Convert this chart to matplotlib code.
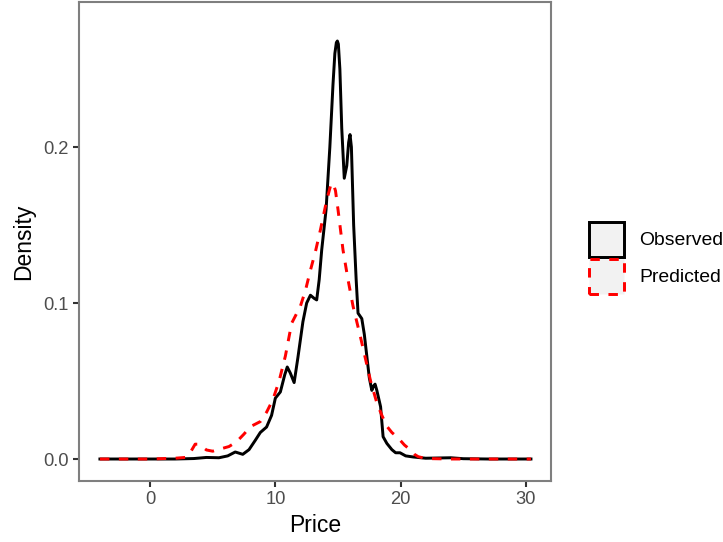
import matplotlib
matplotlib.use("Agg")
import matplotlib.pyplot as plt
from matplotlib.patches import Patch

plt.rcParams['font.family'] = ['Liberation Sans', 'DejaVu Sans']

# density curves
obs_x = [-4.0, -2.0, 0.0, 2.0, 3.5, 4.5, 5.5, 6.2, 6.8, 7.4, 7.9, 8.4, 8.8, 9.3,
         9.7, 10.0, 10.4, 10.75, 10.95, 11.2, 11.5, 11.8, 12.2, 12.5, 12.8, 13.1,
         13.3, 13.5, 13.7, 14.05, 14.35, 14.6, 14.75, 14.87, 14.95, 15.03, 15.15,
         15.3, 15.5, 15.7, 15.85, 15.96, 16.07, 16.25, 16.45, 16.6, 16.9, 17.1,
         17.3, 17.5, 17.7, 17.85, 17.96, 18.1, 18.4, 18.6, 18.9, 19.3, 19.6,
         19.95, 20.4, 21.0, 22.0, 24.0, 25.0, 27.0, 30.4]
obs_y = [0.0, 0.0, 0.0, 0.0, 0.0003, 0.001, 0.0008, 0.002, 0.0045, 0.003, 0.006,
         0.012, 0.017, 0.0205, 0.028, 0.039, 0.043, 0.054, 0.059, 0.055, 0.049,
         0.065, 0.088, 0.100, 0.105, 0.103, 0.102, 0.115, 0.134, 0.160, 0.200,
         0.240, 0.260, 0.267, 0.268, 0.266, 0.250, 0.212, 0.180, 0.188, 0.203,
         0.208, 0.200, 0.150, 0.115, 0.0935, 0.090, 0.080, 0.066, 0.052, 0.044,
         0.047, 0.048, 0.044, 0.0335, 0.0143, 0.010, 0.006, 0.004, 0.004, 0.002,
         0.0013, 0.0005, 0.0008, 0.0002, 0.0, 0.0]

pred_x = [-4.0, 0.0, 2.0, 2.8, 3.2, 3.6, 3.9, 4.5, 5.0, 5.6, 6.3, 6.9, 7.5, 8.0,
          8.8, 9.3, 9.8, 10.3, 10.8, 11.3, 12.0, 12.4, 12.8, 13.2, 13.6, 14.1,
          14.4, 14.6, 14.8, 15.0, 15.4, 15.8, 16.2, 16.8, 17.2, 17.6, 18.1, 18.5,
          18.9, 19.3, 19.8, 20.3, 20.75, 21.1, 21.4, 22.0, 24.0, 30.4]
pred_y = [0.0, 0.0, 0.0005, 0.001, 0.004, 0.0095, 0.0095, 0.0058, 0.005, 0.0064,
          0.008, 0.011, 0.016, 0.0207, 0.024, 0.030, 0.038, 0.050, 0.066, 0.087,
          0.098, 0.108, 0.121, 0.133, 0.147, 0.166, 0.175, 0.177, 0.172, 0.160,
          0.134, 0.115, 0.098, 0.078, 0.064, 0.050, 0.036, 0.028, 0.021, 0.017,
          0.0135, 0.009, 0.006, 0.003, 0.0015, 0.0003, 0.0, 0.0]

labels = ['Observed', 'Predicted']
x_ticks = [0, 10, 20, 30]
y_ticks = [0.0, 0.1, 0.2]

W, H = 723, 542
fig = plt.figure(figsize=(W / 150, H / 150), dpi=150)
ax = fig.add_axes([79 / W, (H - 481) / H, (551 - 79) / W, (481 - 2) / H])

lw = 1.42
ax.plot(obs_x, obs_y, color='black', lw=lw, solid_joinstyle='round')
ax.plot(pred_x, pred_y, color='red', lw=lw, linestyle=(0, (3.2, 3.2)))

ax.set_xlim(-5.67, 32.0)
ax.set_ylim(-0.0141, 0.293)
ax.set_xticks(x_ticks)
ax.set_yticks(y_ticks)
ax.set_xticklabels([str(t) for t in x_ticks])
ax.set_yticklabels([f'{t:.1f}' for t in y_ticks])

for s in ax.spines.values():
    s.set_color('#7f7f7f')
    s.set_linewidth(1.0)
ax.tick_params(axis='both', length=2.75, width=1.0, color='#333333',
               labelcolor='#4d4d4d', labelsize=8.8, pad=2.2)

ax.set_xlabel('Price', fontsize=11, labelpad=2.5)
ax.set_ylabel('Density', fontsize=11, labelpad=4)

handles = [Patch(facecolor='#f2f2f2', edgecolor='black', linewidth=lw),
           Patch(facecolor='#f2f2f2', edgecolor='red', linewidth=lw,
                 linestyle=(0, (3.2, 3.2)))]
fig.legend(handles, labels, loc='center left', bbox_to_anchor=(589 / W, 1 - 258 / H),
           frameon=False, fontsize=9.3, handlelength=1.83, handleheight=2.44,
           labelspacing=0.08, handletextpad=0.77, borderaxespad=0, borderpad=0)

fig.savefig('out.png', dpi=150)
